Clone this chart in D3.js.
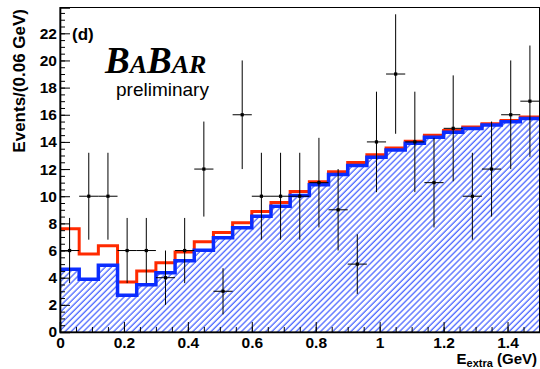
<!DOCTYPE html>
<html>
<head>
<meta charset="utf-8">
<script src="https://cdn.jsdelivr.net/npm/d3@7"></script>
<style>
  body { margin: 0; background: #fff; }
  svg { display: block; font-family: "Liberation Sans", Arial, Helvetica, sans-serif; }
</style>
</head>
<body>
<div id="chart"></div>
<script>
// E_extra histogram, 0.06 GeV bins
const binWidth = 0.06;
const dataCounts = [6, 10, 10, 6, 6, 4, 6, 12, 3, 16, 10, 10, 10, 11, 9, 5, 14, 19, 14, 11, 15, 10, 12, 16, 17];
const dataErrors = [2.4, 3.2, 3.2, 2.4, 2.4, 2.0, 2.4, 3.5, 1.7, 4.0, 3.2, 3.2, 3.2, 3.3, 3.0, 2.2, 3.7, 4.4, 3.7, 3.3, 3.9, 3.2, 3.5, 4.0, 4.1];
const redModel = [7.6, 5.75, 6.35, 3.68, 4.5, 5.1, 5.9, 6.65, 7.32, 8.05, 8.87, 9.53, 10.35, 11.07, 11.8, 12.48, 13.06, 13.56, 14.04, 14.5, 14.84, 15.09, 15.33, 15.58, 15.83];
const blueModel = [4.62, 3.88, 4.92, 2.7, 3.48, 4.37, 5.24, 6.03, 6.94, 7.68, 8.52, 9.26, 10.05, 10.84, 11.6, 12.27, 12.87, 13.41, 13.9, 14.35, 14.72, 14.99, 15.24, 15.48, 15.73];

const xTicks = [0, 0.2, 0.4, 0.6, 0.8, 1.0, 1.2, 1.4];
const xTickLabels = ['0', '0.2', '0.4', '0.6', '0.8', '1', '1.2', '1.4'];
const yTicks = [0, 2, 4, 6, 8, 10, 12, 14, 16, 18, 20, 22];
const yTickLabels = ['0', '2', '4', '6', '8', '10', '12', '14', '16', '18', '20', '22'];

const W = 540, H = 369;
const x = d3.scaleLinear().domain([0, 1.5]).range([60, 539.5]);
const y = d3.scaleLinear().domain([0, 23.9]).range([332, 7.5]);

const svg = d3.select('#chart').append('svg')
  .attr('width', W)
  .attr('height', H);

// hatch for the blue histogram fill
const defs = svg.append('defs');
const pat = defs.append('pattern')
  .attr('id', 'hatch')
  .attr('patternUnits', 'userSpaceOnUse')
  .attr('width', 4.3)
  .attr('height', 10)
  .attr('patternTransform', 'rotate(45)');
pat.append('line')
  .attr('x1', 1).attr('y1', 0).attr('x2', 1).attr('y2', 10)
  .attr('stroke', '#2a4bff')
  .attr('stroke-width', 1.1);

defs.append('clipPath').attr('id', 'plotclip')
  .append('rect')
  .attr('x', x(0)).attr('y', y(23.9))
  .attr('width', x(1.5) - x(0)).attr('height', y(0) - y(23.9));

// step points: bin low edge + closing point at the last high edge
const steps = vals => {
  const pts = vals.map((v, i) => ({ e: i * binWidth, v }));
  pts.push({ e: vals.length * binWidth, v: vals[vals.length - 1] });
  return pts;
};

const plot = svg.append('g').attr('clip-path', 'url(#plotclip)');

plot.append('path')
  .datum(steps(blueModel))
  .attr('fill', 'url(#hatch)')
  .attr('d', d3.area()
    .x(d => x(d.e))
    .y0(y(0))
    .y1(d => y(d.v))
    .curve(d3.curveStepAfter));

const stepLine = d3.line()
  .x(d => x(d.e))
  .y(d => y(d.v))
  .curve(d3.curveStepAfter);

plot.append('path')
  .datum(steps(redModel))
  .attr('fill', 'none')
  .attr('stroke', '#ff2a00')
  .attr('stroke-width', 3)
  .attr('d', stepLine);

plot.append('path')
  .datum(steps(blueModel))
  .attr('fill', 'none')
  .attr('stroke', '#0b2dff')
  .attr('stroke-width', 3.5)
  .attr('d', stepLine);

// data points with errors
const pts = dataCounts.map((v, i) => ({ lo: i * binWidth, hi: (i + 1) * binWidth, v, err: dataErrors[i] }));
const eb = plot.append('g').attr('stroke', '#000').attr('stroke-width', 1);
eb.selectAll('.ev').data(pts).enter().append('line')
  .attr('x1', d => x((d.lo + d.hi) / 2)).attr('x2', d => x((d.lo + d.hi) / 2))
  .attr('y1', d => y(d.v - d.err)).attr('y2', d => y(d.v + d.err));
eb.selectAll('.eh').data(pts).enter().append('line')
  .attr('x1', d => x(d.lo)).attr('x2', d => x(d.hi))
  .attr('y1', d => y(d.v)).attr('y2', d => y(d.v));
plot.selectAll('.mk').data(pts).enter().append('rect')
  .attr('x', d => x((d.lo + d.hi) / 2) - 1.6)
  .attr('y', d => y(d.v) - 1.6)
  .attr('width', 3.2).attr('height', 3.2)
  .attr('fill', '#000');

// frame
svg.append('rect')
  .attr('x', x(0)).attr('y', y(23.9))
  .attr('width', x(1.5) - x(0)).attr('height', y(0) - y(23.9))
  .attr('fill', 'none')
  .attr('stroke', '#000')
  .attr('stroke-width', 1);

// axes: minor then major ticks, pointing inward
const xMinor = d3.range(0, 1.5001, 0.05);
const yMinor = d3.range(0, 23.9, 0.5);

svg.append('g')
  .attr('transform', `translate(0,${y(0)})`)
  .call(d3.axisBottom(x).tickValues(xMinor).tickSize(-5).tickFormat(''))
  .call(g => g.select('.domain').remove());

const xAxis = svg.append('g')
  .attr('transform', `translate(0,${y(0)})`)
  .call(d3.axisBottom(x).tickValues(xTicks).tickSize(-10).tickPadding(5)
    .tickFormat((d, i) => xTickLabels[i]));
xAxis.select('.domain').attr('stroke-width', 1.6);
xAxis.selectAll('text').attr('font-size', 15.5).attr('font-weight', 'bold').attr('fill', '#000')
  .attr('font-family', '"Liberation Sans", Arial, sans-serif');

svg.append('g')
  .attr('transform', `translate(${x(0)},0)`)
  .call(d3.axisLeft(y).tickValues(yMinor).tickSize(-5).tickFormat(''))
  .call(g => g.select('.domain').remove());

const yAxis = svg.append('g')
  .attr('transform', `translate(${x(0)},0)`)
  .call(d3.axisLeft(y).tickValues(yTicks).tickSize(-10).tickPadding(3)
    .tickFormat((d, i) => yTickLabels[i]));
yAxis.select('.domain').attr('stroke-width', 1.6);
yAxis.selectAll('text').attr('font-size', 15.5).attr('font-weight', 'bold').attr('fill', '#000')
  .attr('font-family', '"Liberation Sans", Arial, sans-serif');

// axis titles
svg.append('text')
  .attr('transform', 'translate(25,9) rotate(-90)')
  .attr('text-anchor', 'end')
  .attr('font-size', 17)
  .attr('font-weight', 'bold')
  .text('Events/(0.06 GeV)');

const xt = svg.append('text')
  .attr('x', 537).attr('y', 364)
  .attr('text-anchor', 'end')
  .attr('font-size', 15)
  .attr('font-weight', 'bold');
xt.append('tspan').text('E');
xt.append('tspan').attr('font-size', 11).attr('dy', 3).text('extra');
xt.append('tspan').attr('dy', -3).text(' (GeV)');

// labels inside the frame
svg.append('text')
  .attr('x', 72).attr('y', 40)
  .attr('font-size', 17)
  .attr('font-weight', 'bold')
  .text('(d)');

const logo = svg.append('text')
  .attr('x', 105).attr('y', 73)
  .attr('font-family', '"Liberation Serif", "Times New Roman", serif')
  .attr('font-style', 'italic')
  .attr('font-weight', 'bold')
  .attr('font-size', 37);
logo.append('tspan').text('B');
logo.append('tspan').attr('font-size', 26).text('A');
logo.append('tspan').text('B');
logo.append('tspan').attr('font-size', 26).text('AR');

svg.append('text')
  .attr('x', 116).attr('y', 96)
  .attr('font-size', 19)
  .text('preliminary');
</script>
</body>
</html>
